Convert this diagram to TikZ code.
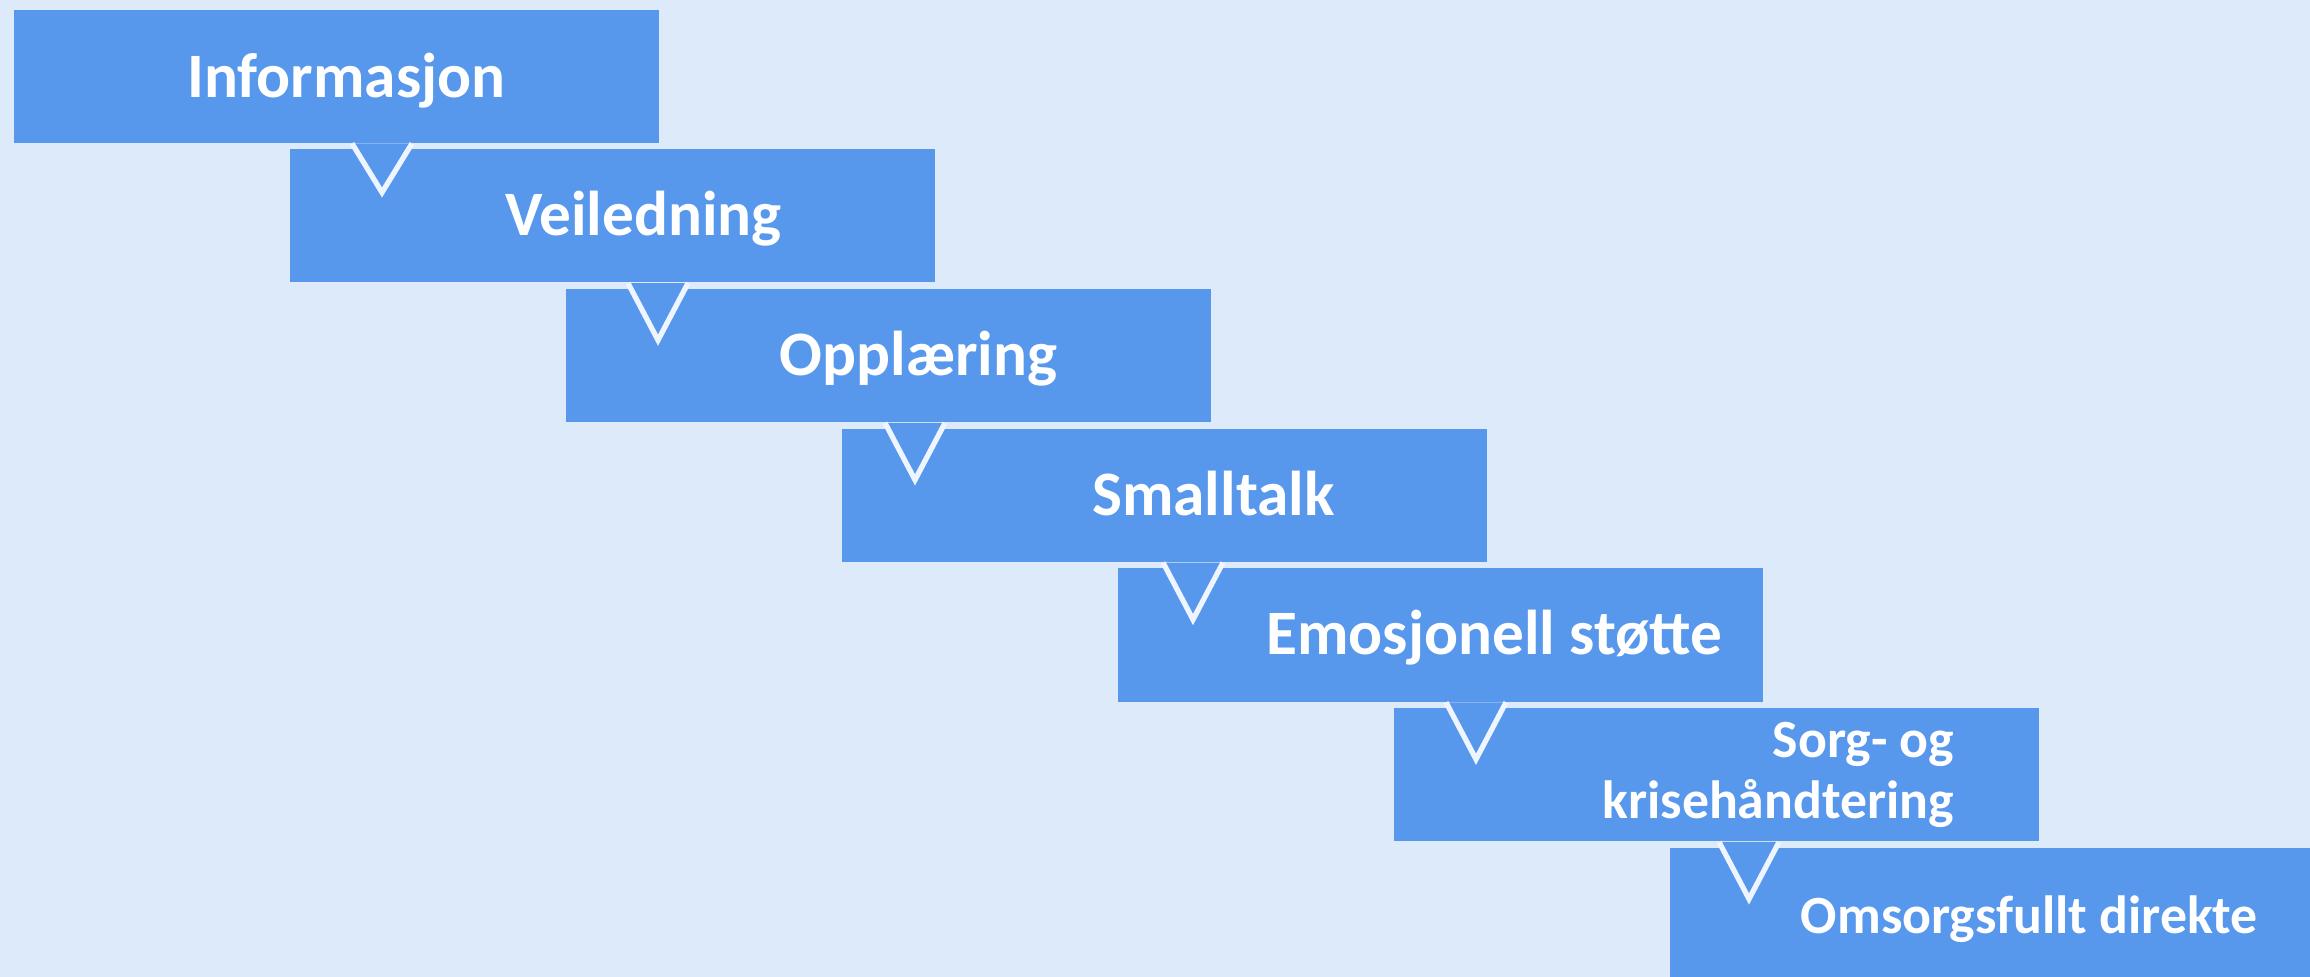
\documentclass[tikz,border=0pt]{standalone}
\usepackage{fontspec}
\setmainfont{Carlito}
\usetikzlibrary{calc}

\definecolor{pagebg}{HTML}{DDEAFA}
\definecolor{stepblue}{HTML}{5798EC}
\definecolor{notchline}{HTML}{EFF5FE}

\begin{document}
\begin{tikzpicture}[x=0.01cm,y=-0.01cm,
    stage/.style={fill=stepblue, anchor=north west, inner sep=0pt, minimum width=6.45cm, minimum height=1.33cm},
    stagetext/.style={text=white, font=\bfseries\fontsize{18}{17.3}\selectfont, anchor=base, inner sep=0pt, align=right},
    smalltext/.style={stagetext, font=\bfseries\fontsize{15.3}{17.3}\selectfont},
    notch/.style={fill=stepblue, draw=notchline, line width=1.5pt}]

	\useasboundingbox (0,0) rectangle (2310,977);
	\clip (0,0) rectangle (2310,977);
	\fill[pagebg] (0,0) rectangle (2310,977);

	% the seven steps
	\foreach \i in {1,...,7}
		\node[stage] (b\i) at ({13+276*(\i-1)}, {9+139.7*(\i-1)}) {};

	% pointers from each step down into the next
	\foreach \a/\b/\dx/\dy in {1/2/93/49, 2/3/93/57, 3/4/74/57, 4/5/76/57, 5/6/83/57, 6/7/80/57} {
		\coordinate (tip\b) at ($(b\b.west |- b\a.south)+(\dx,\dy)$);
		\filldraw[notch] ($(tip\b |- b\a.south)+(-30,0)$) -- (tip\b) -- ($(tip\b |- b\a.south)+(30,0)$);
	}

	\node[stagetext] (t1) at ($(b1.center)+(10,21)$) {Informasjon};
	\node[stagetext] (t2) at ($(b2.center)+(31,20)$) {Veiledning};
	\node[stagetext] (t3) at ($(b3.center)+(30,20)$) {Opplæring};
	\node[stagetext] (t4) at ($(b4.center)+(49,20)$) {Smalltalk};
	\node[stagetext] (t5) at ($(b5.center)+(54,19)$) {Emosjonell støtte};
	\node[smalltext, anchor=base east] (t6) at ($(b6.east)+(-85,43.5)$) {Sorg- og\\krisehåndtering};
	\node[smalltext] (t7) at ($(b7.center)+(37,19)$) {Omsorgsfullt direkte};
\end{tikzpicture}
\end{document}
